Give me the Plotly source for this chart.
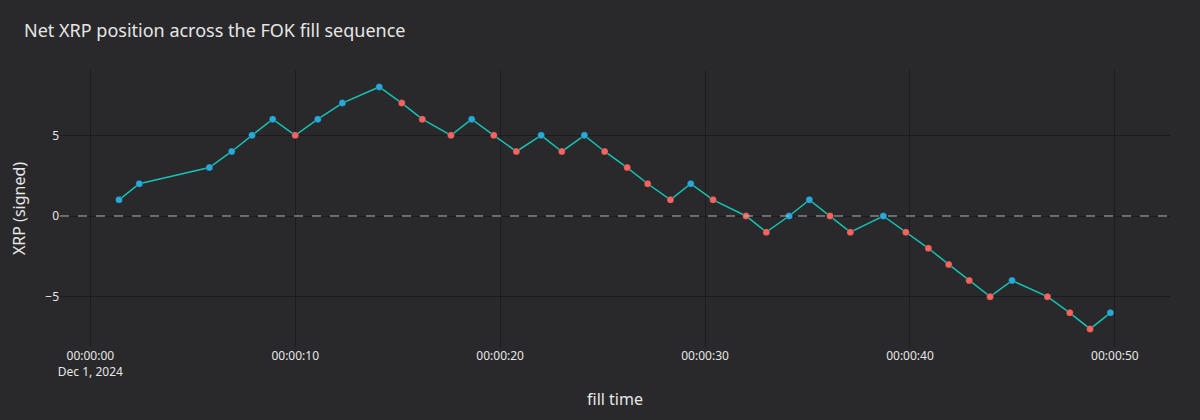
import plotly.graph_objects as go

# fill times (seconds after 2024-12-01 00:00:00)
fill_seconds = [1.40, 2.39, 5.81, 6.90, 7.89, 8.90, 10.00, 11.10, 12.30, 14.10,
                15.20, 16.20, 17.60, 18.61, 19.69, 20.79, 22.00, 23.01, 24.11, 25.10,
                26.20, 27.20, 28.31, 29.30, 30.39, 32.00, 32.99, 34.10, 35.09, 36.10,
                37.09, 38.70, 39.80, 40.90, 41.89, 42.89, 43.91, 44.98, 46.71, 47.80,
                48.79, 49.78]
net_xrp = [1, 2, 3, 4, 5, 6, 5, 6, 7, 8,
           7, 6, 5, 6, 5, 4, 5, 4, 5, 4,
           3, 2, 1, 2, 1, 0, -1, 0, 1, 0,
           -1, 0, -1, -2, -3, -4, -5, -4, -5, -6,
           -7, -6]
side = ["buy", "buy", "buy", "buy", "buy", "buy", "sell", "buy", "buy", "buy",
        "sell", "sell", "sell", "buy", "sell", "sell", "buy", "sell", "buy", "sell",
        "sell", "sell", "sell", "buy", "sell", "sell", "sell", "buy", "buy", "sell",
        "sell", "buy", "sell", "sell", "sell", "sell", "sell", "buy", "sell", "sell",
        "sell", "buy"]

def ts(s):
    whole = int(s)
    ms = int(round((s - whole) * 1000))
    return f"2024-12-01 00:00:{whole:02d}.{ms:03d}"

times = [ts(s) for s in fill_seconds]
side_colors = {"buy": "#2aa8d8", "sell": "#f26562"}
colors = [side_colors[s] for s in side]

BG = "#29292b"
GRID = "#1c1c1e"
TXT = "#e6e6e6"

fig = go.Figure()
fig.add_trace(go.Scatter(
    x=times, y=net_xrp, mode="lines+markers",
    line=dict(color="#17c2b4", width=1.5),
    marker=dict(size=7, color=colors, line=dict(width=0.6, color="rgba(0,0,0,0.35)")),
    showlegend=False,
))
fig.add_hline(y=0, line=dict(color="#b4b4bc", width=1, dash="dash"))

fig.update_layout(
    width=1200, height=420,
    paper_bgcolor=BG, plot_bgcolor=BG,
    font=dict(family="Noto Sans, Open Sans, sans-serif", color=TXT, size=12),
    title=dict(text="Net XRP position across the FOK fill sequence",
               x=0.02, xanchor="left", y=0.943, yanchor="top",
               font=dict(size=18, color=TXT)),
    margin=dict(l=60, r=30, t=70, b=73),
)
fig.update_xaxes(
    title=dict(text="fill time", font=dict(size=16)),
    range=["2024-11-30 23:59:58.52", "2024-12-01 00:00:52.69"],
    autorange=False,
    showgrid=True, gridcolor=GRID, gridwidth=1, zeroline=False,
    dtick=10000, tick0="2024-12-01 00:00:00",
    showline=False, ticks="",
)
fig.update_yaxes(
    title=dict(text="XRP (signed)", font=dict(size=16)),
    range=[-8.12, 9.05], autorange=False,
    showgrid=True, gridcolor=GRID, gridwidth=1, zeroline=False,
    tickvals=[-5, 0, 5], ticktext=["\u22125", "0", "5"],
    showline=False, ticks="",
)

fig.write_html("out.html",
               config={"displayModeBar": False},
               post_script="document.body.style.margin='0';document.body.style.background='%s';" % BG)
